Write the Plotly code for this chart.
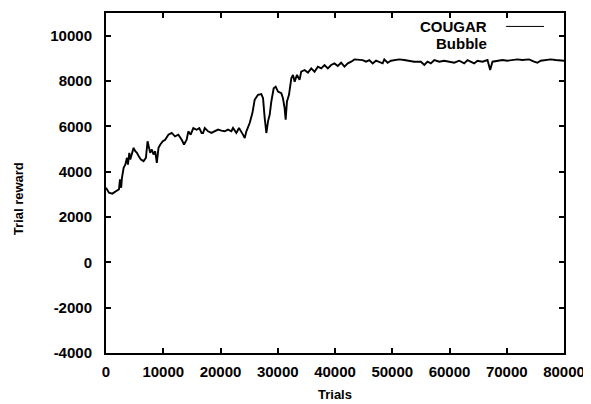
import plotly.graph_objects as go

trials = [0, 520, 1100, 1700, 2270, 2440, 2650, 2790, 3080, 3370, 3660, 3830, 4070, 4240, 4530,
          4820, 5110, 5400, 5690, 6100, 6560, 6970, 7260, 7490, 7720, 8010, 8300, 8590, 8880,
          9170, 9460, 9920, 10330, 10900, 11480, 12060, 12640, 13220, 13630, 14090, 14380,
          14790, 15250, 15830, 16300, 16700, 16960, 17250, 17830, 18410, 18990, 19570, 20150,
          20730, 21310, 21900, 22190, 22770, 23230, 23640, 23930, 24230, 24520, 25100, 25570,
          25970, 26550, 27130, 27430, 27720, 28010, 28300, 28590, 28880, 29290, 29640, 30040,
          30620, 30910, 31200, 31380, 31610, 31960, 32370, 32660, 32950, 33360, 33810, 34100,
          34690, 35270, 35850, 36430, 37010, 37590, 38170, 38750, 39330, 39910, 40490, 41070,
          41650, 42230, 42830, 43390, 44840, 45420, 46000, 46580, 47160, 47740, 48320, 48610,
          49190, 49770, 50360, 51230, 52100, 52970, 53840, 55000, 55600, 56160, 56740, 57340,
          58210, 59080, 59960, 60830, 61700, 62570, 63150, 63730, 64310, 64890, 65770, 66640,
          67100, 67510, 68380, 69250, 70120, 70990, 71860, 72740, 73900, 74770, 75350, 75930,
          76800, 77670, 78540, 79420, 80000]
cougar = [3290, 3075, 3030, 3118, 3222, 3660, 3290, 3730, 4170, 4310, 4610, 4310, 4830, 4540, 4760,
          5050, 4900, 4830, 4690, 4540, 4465, 4610, 5340, 5120, 4830, 4980, 4760, 4900, 4390,
          5050, 5190, 5340, 5410, 5630, 5710, 5560, 5630, 5410, 5200, 5410, 5780,
          5630, 5925, 5850, 5925, 5708, 5708, 5927, 5781, 5708, 5781, 5854, 5810,
          5781, 5854, 5781, 5927, 5708, 5927, 5781, 5635, 5488, 5781, 6145, 6583,
          7170, 7390, 7420, 7240, 6364, 5706, 6219, 6510, 7097, 7680, 7750, 7535,
          7460, 7240, 6800, 6290, 7097, 7390, 8120, 8270, 7970, 8270, 8050, 8412,
          8485, 8370, 8557, 8412, 8630, 8558, 8705, 8558, 8705, 8776, 8661, 8807,
          8632, 8778, 8851, 8953, 8924, 8851, 8924, 8778, 8895, 8851, 8778, 8953,
          8807, 8895, 8924, 8953, 8924, 8895, 8851, 8851, 8705, 8851, 8778, 8924,
          8851, 8895, 8851, 8807, 8895, 8778, 8924, 8851, 8778, 8895, 8851, 8924,
          8485, 8851, 8895, 8924, 8895, 8924, 8953, 8924, 8953, 8851, 8807, 8895,
          8924, 8953, 8924, 8924, 8895]

series_names = ["COUGAR", "Bubble"]
x_ticks = [0, 10000, 20000, 30000, 40000, 50000, 60000, 70000, 80000]
y_ticks = [-4000, -2000, 0, 2000, 4000, 6000, 8000, 10000]

FONT = "Liberation Sans"

fig = go.Figure()
fig.add_trace(go.Scatter(x=trials, y=cougar, mode="lines", name=series_names[0],
                         line=dict(color="black", width=1.9), showlegend=False))

axis_common = dict(showline=True, linecolor="black", linewidth=2, mirror="allticks",
                   ticks="inside", ticklen=5, tickwidth=1.5, tickcolor="black",
                   showgrid=False, zeroline=False,
                   tickfont=dict(family=FONT, size=15, color="black", weight="bold"))

fig.update_xaxes(range=[0, 80000], tickvals=x_ticks, ticktext=[str(v) for v in x_ticks],
                 ticklabelstandoff=4, **axis_common)
fig.update_yaxes(range=[-4000, 11000], tickvals=y_ticks, ticktext=[str(v) for v in y_ticks],
                 ticklabelstandoff=9, **axis_common)

# axis titles
fig.add_annotation(text="Trials", xref="paper", yref="paper", x=0.5, y=-0.1228,
                   xanchor="center", yanchor="middle", showarrow=False,
                   font=dict(family=FONT, size=13, color="black", weight="bold"))
fig.add_annotation(text="Trial reward", xref="paper", yref="paper",
                   x=-0.1895, y=0.453, xanchor="center", yanchor="middle",
                   textangle=-90, showarrow=False,
                   font=dict(family=FONT, size=13, color="black", weight="bold"))

# legend (gnuplot style: text right-aligned, then line sample)
fig.add_annotation(text=series_names[0], xref="paper", yref="paper", x=0.8366, y=0.960,
                   xanchor="right", yanchor="middle", showarrow=False,
                   font=dict(family=FONT, size=15, color="black", weight="bold"))
fig.add_annotation(text=series_names[1], xref="paper", yref="paper", x=0.8366, y=0.909,
                   xanchor="right", yanchor="middle", showarrow=False,
                   font=dict(family=FONT, size=15, color="black", weight="bold"))
fig.add_shape(type="line", xref="paper", yref="paper", x0=0.8736, x1=0.9564,
              y0=0.9605, y1=0.9605, line=dict(color="black", width=1))

# page body has an 8px default margin, so the figure is shifted by (8, 8)
fig.update_layout(width=583, height=396, margin=dict(l=98, r=27, t=3, b=51),
                  plot_bgcolor="white", paper_bgcolor="white", showlegend=False)

fig.write_html("out.html")
